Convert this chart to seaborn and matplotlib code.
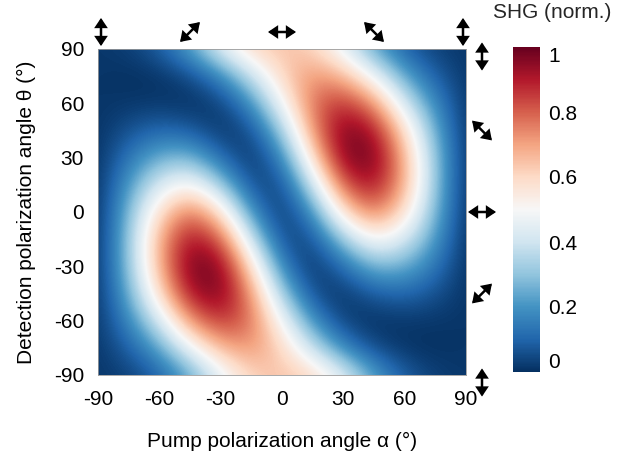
import numpy as np
import pandas as pd
import matplotlib
matplotlib.use("Agg")
import matplotlib.pyplot as plt
import seaborn as sns
from matplotlib.patches import FancyArrowPatch
from matplotlib.transforms import IdentityTransform

# ---- data (15 degree grid) ----
alpha_deg = [-90, -75, -60, -45, -30, -15, 0, 15, 30, 45, 60, 75, 90]   # pump polarization
theta_deg = [-90, -75, -60, -45, -30, -15, 0, 15, 30, 45, 60, 75, 90]   # detection polarization
# rows: theta from -90 to 90 ; columns: alpha from -90 to 90
shg = [
    [0.014, 0.030, 0.090, 0.230, 0.450, 0.610, 0.650, 0.610, 0.450, 0.230, 0.090, 0.030, 0.014],
    [0.013, 0.087, 0.230, 0.470, 0.670, 0.730, 0.610, 0.385, 0.171, 0.048, 0.007, 0.001, 0.013],
    [0.011, 0.170, 0.410, 0.730, 0.870, 0.780, 0.490, 0.190, 0.029, 0.001, 0.016, 0.014, 0.011],
    [0.007, 0.245, 0.590, 0.920, 0.980, 0.730, 0.320, 0.051, 0.008, 0.084, 0.107, 0.063, 0.007],
    [0.004, 0.295, 0.680, 0.990, 0.970, 0.590, 0.160, 0.000, 0.114, 0.274, 0.257, 0.135, 0.004],
    [0.001, 0.300, 0.690, 0.930, 0.820, 0.390, 0.043, 0.051, 0.318, 0.520, 0.426, 0.211, 0.001],
    [0.000, 0.270, 0.590, 0.780, 0.590, 0.189, 0.000, 0.189, 0.590, 0.780, 0.590, 0.270, 0.000],
    [0.001, 0.211, 0.426, 0.520, 0.318, 0.051, 0.043, 0.390, 0.820, 0.930, 0.690, 0.300, 0.001],
    [0.004, 0.135, 0.257, 0.274, 0.114, 0.000, 0.160, 0.590, 0.970, 0.990, 0.680, 0.295, 0.004],
    [0.007, 0.063, 0.107, 0.084, 0.008, 0.051, 0.320, 0.730, 0.980, 0.920, 0.590, 0.245, 0.007],
    [0.011, 0.014, 0.016, 0.001, 0.029, 0.190, 0.490, 0.780, 0.870, 0.730, 0.410, 0.170, 0.011],
    [0.013, 0.001, 0.007, 0.048, 0.171, 0.385, 0.610, 0.730, 0.670, 0.470, 0.230, 0.087, 0.013],
    [0.014, 0.030, 0.090, 0.230, 0.450, 0.610, 0.650, 0.610, 0.450, 0.230, 0.090, 0.030, 0.014],
]
axis_ticks = [-90, -60, -30, 0, 30, 60, 90]
cbar_ticks = [0, 0.2, 0.4, 0.6, 0.8, 1.0]
cbar_ticklabels = ["0", "0.2", "0.4", "0.6", "0.8", "1"]
top_icons = [-90, -45, 0, 45, 90]     # pump polarization icons (alpha)
right_icons = [90, 45, 0, -45, -90]   # detection polarization icons (theta)

# ---- style ----
sns.set_theme(style="white")
plt.rcParams["font.family"] = ["Liberation Sans", "DejaVu Sans"]
FS = 15

W, H = 619, 457
fig = plt.figure(figsize=(W / 100, H / 100), dpi=100)
ax = fig.add_axes([98 / W, 82 / H, 368 / W, 326 / H])
cax = fig.add_axes([513 / W, 85 / H, 27 / W, 325 / H])

df = pd.DataFrame(shg, index=theta_deg, columns=alpha_deg)
cmap = sns.color_palette("RdBu_r", as_cmap=True)
step = alpha_deg[1] - alpha_deg[0]
ext = [alpha_deg[0] - step / 2, alpha_deg[-1] + step / 2,
       theta_deg[0] - step / 2, theta_deg[-1] + step / 2]
im = ax.imshow(df.values, origin="lower", extent=ext, cmap=cmap, vmin=0, vmax=1,
               interpolation="bicubic", interpolation_stage="data", aspect="auto")
ax.set_xlim(-90, 90)
ax.set_ylim(-90, 90)
ax.set_xticks(axis_ticks)
ax.set_yticks(axis_ticks)
ax.set_xticklabels([str(t) for t in axis_ticks])
ax.set_yticklabels([str(t) for t in axis_ticks])
ax.tick_params(axis="x", length=0, labelsize=FS, pad=11, colors="black")
ax.tick_params(axis="y", length=0, labelsize=FS, pad=10, colors="black")
ax.set_xlabel("Pump polarization angle α (°)", fontsize=FS, labelpad=16, color="black")
ax.set_ylabel("Detection polarization angle θ (°)", fontsize=FS, labelpad=12.5, color="black")
for s in ax.spines.values():
    s.set_linewidth(0.6)
    s.set_color("#9a9a9a")
ax.grid(False)

cb = fig.colorbar(im, cax=cax)
cb.set_ticks(cbar_ticks)
cb.set_ticklabels(cbar_ticklabels)
cax.tick_params(length=0, labelsize=FS, pad=6, colors="black")
cb.outline.set_visible(False)
labs = cax.get_yticklabels()
labs[0].set_verticalalignment("bottom")
labs[-1].set_verticalalignment("top")
fig.text(552 / W, 1 - 12 / H, "SHG (norm.)", fontsize=FS, ha="center", va="center")

# ---- polarization icons ----
def icon(cx, cy, ang, length=28):
    r = np.deg2rad(ang)
    dx, dy = np.cos(r) * length / 2, np.sin(r) * length / 2
    p = FancyArrowPatch((cx - dx, cy - dy), (cx + dx, cy + dy),
                        arrowstyle="<|-|>,head_length=0.4,head_width=0.27",
                        mutation_scale=12, lw=1.8, color="black",
                        shrinkA=0, shrinkB=0, joinstyle="miter",
                        transform=IdentityTransform(), clip_on=False)
    fig.add_artist(p)

for a in top_icons:
    x = ax.transData.transform((a, 0))[0]
    if a == top_icons[0]:
        x += 3
    if a == top_icons[-1]:
        x -= 3
    icon(x, H - 32, -a)

for t in right_icons:
    y = ax.transData.transform((0, t))[1]
    if abs(t) == 90:
        y -= 7.5
    icon(482, y, -t)

fig.savefig("out.png", dpi=100)
